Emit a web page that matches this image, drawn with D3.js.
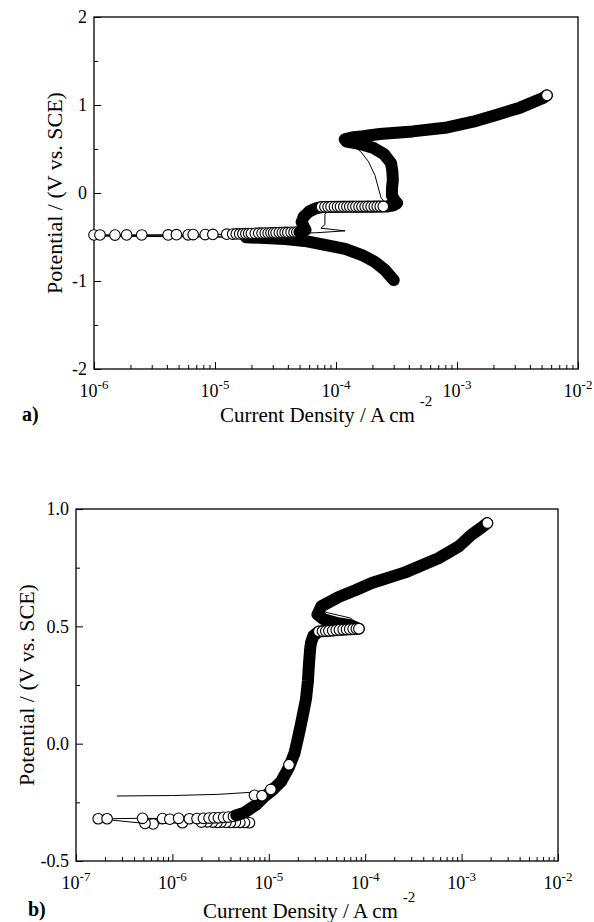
<!DOCTYPE html>
<html>
<head>
<meta charset="utf-8">
<script src="https://cdn.jsdelivr.net/npm/d3@7"></script>
<style>
  body { margin: 0; background: #fff; }
  svg { display: block; }
  text { font-family: "Liberation Serif", "Times New Roman", serif; fill: #000; }
</style>
</head>
<body>
<svg id="chart" width="594" height="922"></svg>
<script>
// ---------- Panel a: potentiodynamic scan, [current density A/cm2, potential V vs SCE] ----------
const aCathodic = [
  [3.0e-4, -0.99], [2.54e-4, -0.875], [2.1e-4, -0.784], [1.64e-4, -0.705], [1.19e-4, -0.636],
  [8.1e-5, -0.59], [5.5e-5, -0.545], [3.8e-5, -0.523], [2.6e-5, -0.511], [1.8e-5, -0.503]
];
const aNearOcp = [
  [1.0e-6, -0.477], [1.12e-6, -0.477], [1.49e-6, -0.478], [1.86e-6, -0.476], [2.48e-6, -0.477],
  [4.1e-6, -0.476], [4.8e-6, -0.474], [6.0e-6, -0.475], [6.6e-6, -0.473], [8.3e-6, -0.472],
  [9.6e-6, -0.471], [1.25e-5, -0.468], [1.4e-5, -0.467], [1.5e-5, -0.465], [1.6e-5, -0.465],
  [1.7e-5, -0.463], [1.8e-5, -0.462], [1.9e-5, -0.46], [2.0e-5, -0.46], [2.15e-5, -0.458],
  [2.3e-5, -0.457], [2.45e-5, -0.457], [2.6e-5, -0.455], [2.75e-5, -0.455], [2.9e-5, -0.453],
  [3.05e-5, -0.452], [3.2e-5, -0.452], [3.4e-5, -0.45], [3.6e-5, -0.45], [3.8e-5, -0.448],
  [4.0e-5, -0.448], [4.25e-5, -0.446], [4.5e-5, -0.446], [4.75e-5, -0.444], [5.0e-5, -0.444]
];
const aAnodic = [
  [5.0e-5, -0.444], [5.6e-5, -0.42], [5.4e-5, -0.38], [5.2e-5, -0.33], [5.4e-5, -0.27],
  [6.0e-5, -0.21], [6.8e-5, -0.175], [7.6e-5, -0.16], [1.2e-4, -0.157], [2.0e-4, -0.155],
  [2.6e-4, -0.153], [3.0e-4, -0.14], [3.2e-4, -0.115], [3.05e-4, -0.085], [2.9e-4, -0.03],
  [2.9e-4, 0.05], [2.95e-4, 0.15], [2.92e-4, 0.25], [2.85e-4, 0.34], [2.5e-4, 0.44],
  [2.05e-4, 0.51], [1.55e-4, 0.56], [1.22e-4, 0.585], [1.18e-4, 0.61], [1.4e-4, 0.635],
  [1.67e-4, 0.645], [2.3e-4, 0.67], [4.3e-4, 0.70], [8.3e-4, 0.745], [1.36e-3, 0.81],
  [2.14e-3, 0.89], [3.32e-3, 0.97], [5.14e-3, 1.08], [5.54e-3, 1.11]
];
const aPlateau = [
  [7.6e-5, -0.158], [8.1e-5, -0.157], [8.6e-5, -0.158], [9.1e-5, -0.156], [9.7e-5, -0.157],
  [1.03e-4, -0.156], [1.09e-4, -0.156], [1.16e-4, -0.155], [1.23e-4, -0.156], [1.3e-4, -0.155],
  [1.38e-4, -0.155], [1.46e-4, -0.154], [1.55e-4, -0.155], [1.64e-4, -0.154], [1.74e-4, -0.154],
  [1.84e-4, -0.153], [1.95e-4, -0.154], [2.07e-4, -0.153], [2.19e-4, -0.153], [2.32e-4, -0.152],
  [2.46e-4, -0.152]
];
const aSecondScan = [
  [3.0e-4, -0.99], [2.54e-4, -0.875], [2.1e-4, -0.784], [1.64e-4, -0.705], [1.19e-4, -0.636],
  [8.1e-5, -0.59], [5.5e-5, -0.545], [3.8e-5, -0.523], [2.6e-5, -0.511], [1.77e-5, -0.502],
  [6e-6, -0.497], [2e-6, -0.493], [1.0e-6, -0.49], [1.0e-6, -0.483], [3e-6, -0.479],
  [1e-5, -0.474], [3e-5, -0.462], [5.5e-5, -0.455], [6.8e-5, -0.452], [1.19e-4, -0.43],
  [7.5e-5, -0.40], [8.1e-5, -0.36], [8.1e-5, -0.24], [8.8e-5, -0.18], [1.5e-4, -0.165],
  [2.7e-4, -0.16], [2.35e-4, -0.05], [2.1e-4, 0.2], [1.85e-4, 0.36], [1.6e-4, 0.47],
  [1.35e-4, 0.55], [1.25e-4, 0.6], [1.5e-4, 0.635], [2.3e-4, 0.665], [4.3e-4, 0.695],
  [8.3e-4, 0.74], [1.36e-3, 0.805], [2.14e-3, 0.885], [3.32e-3, 0.965], [5.14e-3, 1.075],
  [5.5e-3, 1.1]
];

// ---------- Panel b ----------
const bNearOcp = [
  [6.3e-6, -0.337], [5.6e-6, -0.336], [5.0e-6, -0.336], [4.5e-6, -0.335], [4.0e-6, -0.336],
  [3.6e-6, -0.335], [3.2e-6, -0.334], [2.9e-6, -0.335], [2.6e-6, -0.334], [2.3e-6, -0.333],
  [2.0e-6, -0.334], [1.27e-6, -0.337], [6.3e-7, -0.342], [5.2e-7, -0.34], [1.7e-7, -0.32],
  [2.1e-7, -0.32], [4.9e-7, -0.318], [7.9e-7, -0.319], [9.4e-7, -0.322], [1.16e-6, -0.318],
  [1.5e-6, -0.32], [1.8e-6, -0.319], [2.1e-6, -0.318], [2.4e-6, -0.317], [2.7e-6, -0.316],
  [3.0e-6, -0.316], [3.4e-6, -0.314], [3.8e-6, -0.313], [4.3e-6, -0.31]
];
const bAnodic = [
  [4.6e-6, -0.305], [5.5e-6, -0.295], [7.4e-6, -0.26], [9e-6, -0.225], [1.08e-5, -0.20],
  [1.35e-5, -0.16], [1.62e-5, -0.10], [1.85e-5, -0.04], [2.06e-5, 0.045], [2.25e-5, 0.12],
  [2.43e-5, 0.19], [2.55e-5, 0.27], [2.6e-5, 0.33], [2.68e-5, 0.40], [2.74e-5, 0.43],
  [2.9e-5, 0.46], [3.3e-5, 0.478], [5e-5, 0.484], [8.6e-5, 0.49], [7e-5, 0.505],
  [5e-5, 0.515], [3.7e-5, 0.53], [3.2e-5, 0.55], [3.5e-5, 0.585], [5.3e-5, 0.625],
  [8e-5, 0.655], [1.17e-4, 0.685], [2.6e-4, 0.73], [5.75e-4, 0.79], [9.3e-4, 0.84],
  [1.26e-3, 0.89], [1.6e-3, 0.92], [1.85e-3, 0.94]
];
const bTransition = [[7.1e-6, -0.22], [8.5e-6, -0.222], [1.05e-5, -0.195], [1.62e-5, -0.09]];
const bLoop = [
  [3.3e-5, 0.478], [3.6e-5, 0.479], [3.9e-5, 0.48], [4.2e-5, 0.481], [4.6e-5, 0.482],
  [5.0e-5, 0.484], [5.4e-5, 0.485], [5.9e-5, 0.486], [6.4e-5, 0.487], [6.9e-5, 0.488],
  [7.5e-5, 0.489], [8.1e-5, 0.49], [8.6e-5, 0.49]
];
const bSecondScan = [
  [2.65e-7, -0.223], [1e-6, -0.221], [3e-6, -0.216], [6.7e-6, -0.207], [1.1e-5, -0.193],
  [1.4e-5, -0.17], [1.7e-5, -0.115], [2.0e-5, -0.045], [2.3e-5, 0.06], [2.55e-5, 0.2],
  [2.65e-5, 0.35], [2.75e-5, 0.43], [3.2e-5, 0.47], [5e-5, 0.495], [8e-5, 0.508],
  [7.1e-5, 0.535], [3.9e-5, 0.56], [3.4e-5, 0.575], [4.5e-5, 0.61], [8e-5, 0.652],
  [1.4e-4, 0.69], [3e-4, 0.74], [5.8e-4, 0.79], [9.3e-4, 0.84], [1.26e-3, 0.89],
  [1.6e-3, 0.92], [1.8e-3, 0.935]
];

// ---------- Axis ticks ----------
const aYTicks = [2, 1, 0, -1, -2];
const aYTickLabels = ["2", "1", "0", "-1", "-2"];
const aYMinor = [1.5, 0.5, -0.5, -1.5];
const bYTicks = [1.0, 0.5, 0.0, -0.5];
const bYTickLabels = ["1.0", "0.5", "0.0", "-0.5"];
const bYMinor = [0.75, 0.25, -0.25];

const svg = d3.select("#chart");
const MARKER_R = 5.3;
const BAND_W = 12;

function drawPanel(p) {
  const x = d3.scaleLog().domain(p.xDomain).range([p.left, p.right]);
  const y = d3.scaleLinear().domain(p.yDomain).range([p.bottom, p.top]);
  const g = svg.append("g");

  // x ticks: decades are major, 2..9 multiples are minor (all point inward)
  const all = x.ticks();
  const isDecade = v => Math.abs(Math.log10(v) - Math.round(Math.log10(v))) < 1e-6;
  const majors = all.filter(isDecade);
  const minors = all.filter(v => !isDecade(v));

  g.append("g").attr("transform", `translate(0,${p.bottom})`)
    .call(d3.axisBottom(x).tickValues(minors).tickSize(-4).tickFormat(""))
    .call(s => s.select(".domain").remove());
  g.append("g").attr("transform", `translate(0,${p.bottom})`)
    .call(d3.axisBottom(x).tickValues(majors).tickSize(-7).tickFormat(""))
    .call(s => s.select(".domain").remove());

  majors.forEach(v => {
    const t = g.append("text")
      .attr("x", x(v)).attr("y", p.bottom + 28)
      .attr("text-anchor", "middle").attr("font-size", 18);
    t.append("tspan").text("10");
    t.append("tspan").attr("dy", -8).attr("font-size", 13)
      .text("-" + Math.abs(Math.round(Math.log10(v))));
  });

  // y ticks
  g.append("g").attr("transform", `translate(${p.left},0)`)
    .call(d3.axisLeft(y).tickValues(p.yMinor).tickSize(-4).tickFormat(""))
    .call(s => s.select(".domain").remove());
  g.append("g").attr("transform", `translate(${p.left},0)`)
    .call(d3.axisLeft(y).tickValues(p.yTicks).tickSize(-7).tickPadding(7)
      .tickFormat((d, i) => p.yLabels[i]))
    .call(s => s.select(".domain").remove())
    .call(s => s.selectAll("text").attr("font-size", 18)
      .style("font-family", '"Liberation Serif", serif').attr("fill", "#000"));

  g.selectAll(".tick line").attr("stroke", "#000").attr("stroke-width", 1);

  // frame
  g.append("rect")
    .attr("x", p.left).attr("y", p.top)
    .attr("width", p.right - p.left).attr("height", p.bottom - p.top)
    .attr("fill", "none").attr("stroke", "#000").attr("stroke-width", 1.3);

  const line = d3.line().x(d => x(d[0])).y(d => y(d[1]));

  // curves, drawn in the order given
  p.layers.forEach(L => {
    if (L.kind === "thin") {
      g.append("path").datum(L.data).attr("d", line)
        .attr("fill", "none").attr("stroke", "#000").attr("stroke-width", 1)
        .attr("stroke-linejoin", "round");
    } else if (L.kind === "band") {
      g.append("path").datum(L.data).attr("d", line)
        .attr("fill", "none").attr("stroke", "#000").attr("stroke-width", BAND_W)
        .attr("stroke-linejoin", "round").attr("stroke-linecap", "round");
    } else if (L.kind === "open") {
      g.append("g").selectAll("circle").data(L.data).join("circle")
        .attr("cx", d => x(d[0])).attr("cy", d => y(d[1])).attr("r", MARKER_R)
        .attr("fill", "#fff").attr("stroke", "#000").attr("stroke-width", 1.1);
    }
  });

  // axis titles
  const xt = g.append("text").attr("x", p.xTitleX).attr("y", p.xTitleY)
    .attr("font-size", 21);
  xt.append("tspan").text("Current Density / A cm");
  xt.append("tspan").attr("dx", 5).attr("dy", -16).attr("font-size", 15).text("-2");

  g.append("text")
    .attr("transform", `translate(${p.yTitleX},${(p.top + p.bottom) / 2}) rotate(-90)`)
    .attr("text-anchor", "middle").attr("font-size", 22)
    .text("Potential / (V vs. SCE)");

  g.append("text").attr("x", p.tagX).attr("y", p.tagY)
    .attr("font-size", 20).attr("font-weight", "bold").text(p.tag);
}

drawPanel({
  left: 94, right: 578, top: 17, bottom: 369,
  xDomain: [1e-6, 1e-2], yDomain: [-2, 2],
  yTicks: aYTicks, yLabels: aYTickLabels, yMinor: aYMinor,
  yTitleX: 62, tag: "a)", tagX: 22, tagY: 421, xTitleX: 220, xTitleY: 422,
  layers: [
    { kind: "thin", data: aSecondScan },
    { kind: "thin", data: aCathodic.concat(aNearOcp, aAnodic) },
    { kind: "band", data: aCathodic },
    { kind: "open", data: aNearOcp },
    { kind: "band", data: aAnodic },
    { kind: "open", data: aPlateau },
    { kind: "open", data: aAnodic.slice(-1) }
  ]
});

drawPanel({
  left: 76, right: 558, top: 509, bottom: 861,
  xDomain: [1e-7, 1e-2], yDomain: [-0.5, 1.0],
  yTicks: bYTicks, yLabels: bYTickLabels, yMinor: bYMinor,
  yTitleX: 34, tag: "b)", tagX: 28, tagY: 916, xTitleX: 203, xTitleY: 918,
  layers: [
    { kind: "thin", data: bSecondScan },
    { kind: "thin", data: bNearOcp.concat(bAnodic) },
    { kind: "open", data: bNearOcp },
    { kind: "band", data: bAnodic },
    { kind: "open", data: bTransition },
    { kind: "open", data: bLoop },
    { kind: "open", data: bAnodic.slice(-1) }
  ]
});
</script>
</body>
</html>
